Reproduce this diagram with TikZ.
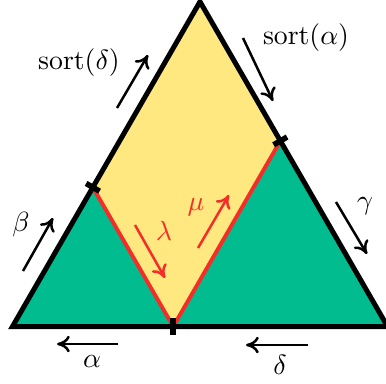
\documentclass[tikz,border=0pt]{standalone}
\usetikzlibrary{arrows.meta,calc}
\definecolor{ylw}{RGB}{255,232,128}
\definecolor{grn}{RGB}{0,188,142}
\definecolor{rd}{RGB}{245,45,40}
\begin{document}
\begin{tikzpicture}[x=0.36pt,y=-0.36pt,
  edge/.style={line width=1.8pt,line join=miter},
  tick/.style={line width=2pt},
  redline/.style={rd,line width=1.4pt},
  flow/.style={line width=0.9pt,-{To[length=4.6pt,width=6pt]}},
  redflow/.style={flow,rd},
  lbl/.style={inner sep=0pt}]
\useasboundingbox (0,0) rectangle (386,383);
% vertices and division points
\coordinate (A) at (12.5,326.5);
\coordinate (B) at (387.5,326.5);
\coordinate (C) at (200,1.7);
\coordinate (L) at ($(A)!3/7!(C)$);
\coordinate (R) at ($(C)!3/7!(B)$);
\coordinate (M) at ($(A)!3/7!(B)$);
% fills
\fill[ylw] (C) -- (R) -- (M) -- (L) -- cycle;
\fill[grn] (A) -- (L) -- (M) -- cycle;
\fill[grn] (M) -- (R) -- (B) -- cycle;
% red lines
\draw[redline] (L) -- (M) -- (R);
% outline
\draw[edge] (A) -- (B) -- (C) -- cycle;
% ticks
\draw[tick] ($(L)!2.8pt!90:(C)$) -- ($(L)!2.8pt!-90:(C)$);
\draw[tick] ($(R)!2.8pt!90:(B)$) -- ($(R)!2.8pt!-90:(B)$);
\draw[tick] ($(M)!3pt!90:(B)$) -- ($(M)!3pt!-90:(B)$);
% arrows
\coordinate (sd1) at (117,108); \coordinate (sd2) at (148,55);
\coordinate (sa1) at (243,38);  \coordinate (sa2) at (273,101);
\coordinate (b1) at (23,271);   \coordinate (b2) at (53,218);
\coordinate (g1) at (336,202);  \coordinate (g2) at (367,254);
\coordinate (l1) at (135,225);  \coordinate (l2) at (165,278);
\coordinate (m1) at (198,248);  \coordinate (m2) at (229,195);
\coordinate (a1) at (118,344);  \coordinate (a2) at (57,344);
\coordinate (d1) at (308,345);  \coordinate (d2) at (246,345);
\draw[flow] (sd1) -- (sd2);
\draw[flow] (sa1) -- (sa2);
\draw[flow] (b1) -- (b2);
\draw[flow] (g1) -- (g2);
\draw[redflow] (l1) -- (l2);
\draw[redflow] (m1) -- (m2);
\draw[flow] (a1) -- (a2);
\draw[flow] (d1) -- (d2);
% labels
\node[lbl] (tsd) at (79,63) {$\mathrm{sort}(\delta)$};
\node[lbl] (tsa) at (306,38) {$\mathrm{sort}(\alpha)$};
\node[lbl] (tb) at (21,225) {$\beta$};
\node[lbl] (tg) at (365,206) {$\gamma$};
\node[lbl,text=rd] (tl) at (164,231) {$\lambda$};
\node[lbl,text=rd] (tm) at (196,207) {$\mu$};
\node[lbl] (ta) at (92,361) {$\alpha$};
\node[lbl] (td) at (280,365) {$\delta$};
\end{tikzpicture}
\end{document}
